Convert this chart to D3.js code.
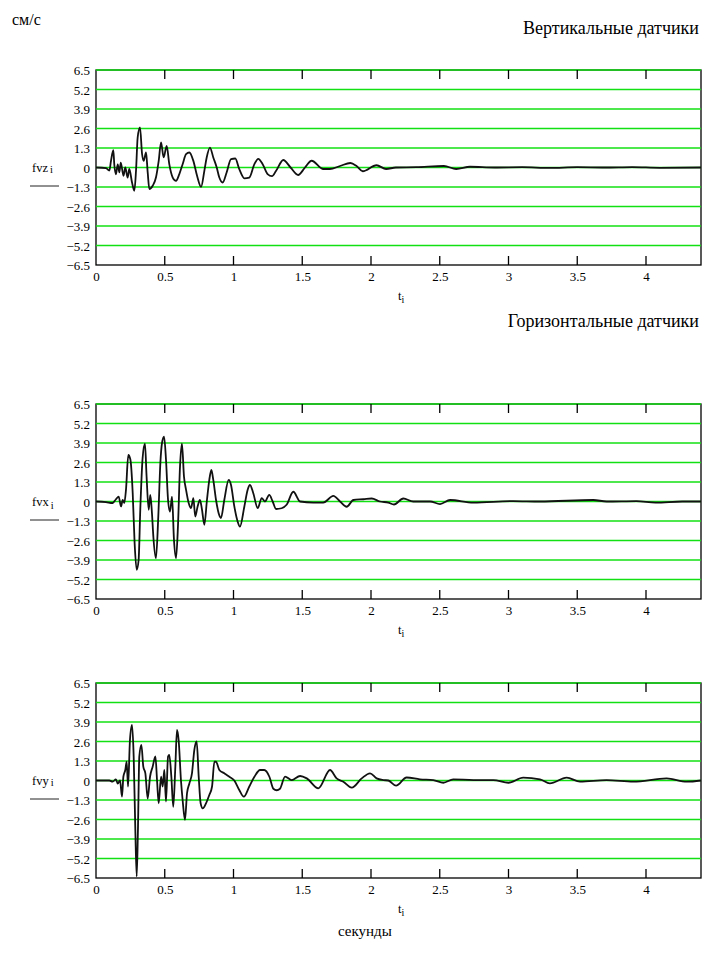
<!DOCTYPE html>
<html>
<head>
<meta charset="utf-8">
<script src="https://cdn.jsdelivr.net/npm/d3@7"></script>
<style>
  body { margin: 0; background: #fff; }
  svg { display: block; font-family: "Liberation Serif", "Times New Roman", serif; }
  svg text, .tick text { font-family: "Liberation Serif", "Times New Roman", serif; }
  .tick text { font-size: 13px; fill: #000; }
</style>
</head>
<body>
<div class="wrapper"></div>
<script>
// chart size
var ultimatew = 702,
  ultimateh = 956;

// axis settings
var xTicks = [0, 0.5, 1, 1.5, 2, 2.5, 3, 3.5, 4];
var yTicks = [6.5, 5.2, 3.9, 2.6, 1.3, 0, -1.3, -2.6, -3.9, -5.2, -6.5];
var xMax = 4.4;

// vertical sensor, fvz  [t, value]
var fvz = [
  [0, 0], [0.073, -0.04], [0.097, -0.2], [0.109, 0.44], [0.126, 1.15], [0.133, 0.2],
  [0.145, -0.45], [0.158, 0.2], [0.17, -0.33], [0.18, 0.33], [0.2, -0.55], [0.213, 0],
  [0.23, -0.67], [0.242, -0.1], [0.262, -1.0], [0.279, -1.55], [0.291, -0.22], [0.303, 2.0],
  [0.32, 2.67], [0.335, 0.9], [0.347, 0.44], [0.364, 1.0], [0.376, -0.33], [0.388, -1.44],
  [0.412, -1.22], [0.436, -0.67], [0.456, 0.44], [0.473, 1.67], [0.492, 0.67], [0.514, 1.44],
  [0.533, 0.22], [0.558, -0.67], [0.582, -0.89], [0.606, -0.44], [0.63, 0.22], [0.655, 0.89],
  [0.679, 1.0], [0.708, 0.44], [0.735, -0.55], [0.764, -1.29], [0.788, -0.22], [0.805, 0.67],
  [0.829, 1.33], [0.853, 0.67], [0.878, 0], [0.897, -0.67], [0.921, -1.0], [0.95, -0.33],
  [0.982, 0.56], [1.013, 0.6], [1.042, -0.11], [1.079, -0.72], [1.115, -0.67], [1.152, 0.22],
  [1.18, 0.58], [1.212, 0.22], [1.248, -0.44], [1.28, -0.58], [1.31, -0.22], [1.362, 0.5],
  [1.415, 0], [1.47, -0.5], [1.52, 0], [1.568, 0.45], [1.653, -0.1], [1.7, -0.1],
  [1.775, 0.1], [1.85, 0.3], [1.895, 0.1], [1.94, -0.25], [2.04, 0.15], [2.11, -0.1],
  [2.18, 0], [2.33, 0.02], [2.53, 0.1], [2.62, -0.1], [2.72, 0.05], [2.9, 0],
  [3.1, 0.02], [3.3, -0.03], [3.5, 0.02], [3.7, 0], [3.9, 0.03], [4.1, -0.02], [4.4, 0]
];

// horizontal sensor, fvx  [t, value]
var fvx = [
  [0, 0], [0.073, -0.04], [0.121, -0.1], [0.145, 0.15], [0.165, 0.33], [0.182, -0.33],
  [0.194, 0.1], [0.206, -0.1], [0.218, 0.78], [0.235, 3.1], [0.25, 2.8], [0.267, 0.55],
  [0.281, -2.8], [0.296, -4.55], [0.31, -3.9], [0.322, -0.55], [0.339, 2.9], [0.356, 3.85],
  [0.368, 1.65], [0.383, -0.55], [0.395, 0.44], [0.407, -0.78], [0.417, -2.33], [0.436, -3.78],
  [0.453, -1.0], [0.468, 2.55], [0.48, 3.9], [0.495, 4.33], [0.509, 2.8], [0.524, 0.1],
  [0.538, -0.67], [0.553, 0.33], [0.567, -2.55], [0.582, -3.78], [0.596, -1.67], [0.611, 2.33],
  [0.625, 3.85], [0.64, 1.65], [0.655, 0.78], [0.674, -0.1], [0.691, -0.44], [0.708, 0.22],
  [0.722, -1.0], [0.739, -0.33], [0.756, 0.1], [0.771, -0.55], [0.788, -1.55], [0.807, 0.1],
  [0.824, 1.44], [0.839, 2.1], [0.853, 1.44], [0.873, 0.1], [0.892, -0.78], [0.909, -1.1],
  [0.933, 0.1], [0.965, 1.44], [0.982, 1.1], [1.006, -0.33], [1.03, -1.33], [1.047, -1.67],
  [1.079, -0.33], [1.103, 0.78], [1.12, 1.1], [1.144, 0.55], [1.176, -0.44], [1.205, 0.22],
  [1.229, 0], [1.26, 0.44], [1.285, 0], [1.31, -0.5], [1.35, -0.45], [1.386, -0.22],
  [1.435, 0.65], [1.484, 0], [1.58, -0.07], [1.653, -0.07], [1.726, 0.37], [1.775, 0],
  [1.823, -0.35], [1.872, 0.1], [1.945, 0.15], [2.005, 0.2], [2.065, 0], [2.126, -0.07],
  [2.167, -0.2], [2.235, 0.2], [2.307, 0], [2.43, 0], [2.502, -0.17], [2.575, 0.1],
  [2.744, -0.07], [3.035, 0.03], [3.229, 0], [3.617, 0.1], [3.713, 0], [3.93, 0.03],
  [4.07, -0.07], [4.265, 0], [4.4, 0]
];

// horizontal sensor, fvy  [t, value]
var fvy = [
  [0, 0], [0.097, 0], [0.121, -0.08], [0.145, 0.08], [0.158, -0.2], [0.175, 0],
  [0.189, -1.08], [0.199, 0.25], [0.213, 0.7], [0.223, 1.25], [0.233, -0.4], [0.247, 2.7],
  [0.262, 3.7], [0.274, 1.6], [0.286, -3.3], [0.296, -6.4], [0.305, -3.3], [0.315, 1.6],
  [0.33, 2.37], [0.344, 0.92], [0.359, 0.48], [0.376, -1.2], [0.393, 0.25], [0.412, 0.92],
  [0.432, 1.6], [0.444, 0], [0.456, -1.52], [0.473, 0.25], [0.485, -0.4], [0.497, 0.7],
  [0.509, -1.4], [0.524, 1.6], [0.533, 1.7], [0.548, 0.25], [0.562, -1.75], [0.577, 0.92],
  [0.589, 3.37], [0.601, 2.7], [0.618, 0], [0.63, -1.3], [0.647, -2.63], [0.662, -0.85],
  [0.679, -0.2], [0.698, 0.48], [0.715, 2.03], [0.732, 2.6], [0.747, 0.25], [0.761, -1.52],
  [0.776, -1.86], [0.8, -1.52], [0.824, -0.97], [0.844, -0.4], [0.861, 1.25], [0.873, 1.25],
  [0.897, 0.7], [0.933, 0.48], [0.97, 0.25], [1.006, 0], [1.042, -0.63], [1.075, -1.08],
  [1.115, -0.4], [1.152, 0.25], [1.193, 0.7], [1.224, 0.7], [1.261, 0.25], [1.29, -0.55],
  [1.314, -0.65], [1.338, -0.55], [1.375, 0.26], [1.423, 0.03], [1.484, 0.3], [1.533, 0.14], [1.617, -0.52],
  [1.702, 0.7], [1.75, 0.14], [1.799, -0.08], [1.86, -0.48], [1.932, 0.14], [1.993, 0.48],
  [2.041, 0.14], [2.09, 0.03], [2.126, 0], [2.182, -0.34], [2.259, 0.2], [2.356, 0.08],
  [2.453, 0.03], [2.526, -0.15], [2.598, 0.08], [2.744, 0.03], [2.89, 0.03], [2.999, -0.15],
  [3.107, 0.19], [3.229, 0.08], [3.301, -0.19], [3.423, 0.19], [3.52, -0.08], [3.713, 0.03],
  [3.908, -0.08], [4.15, 0.14], [4.296, -0.08], [4.4, 0]
];

var panels = [
  { data: fvz, name: "fvz", top: 70 },
  { data: fvx, name: "fvx", top: 404 },
  { data: fvy, name: "fvy", top: 683 }
];

var margin = { left: 96, right: 1 },
  width = ultimatew - margin.left - margin.right,
  height = 195;

var svg = d3
  .select(".wrapper")
  .append("svg")
  .attr("width", ultimatew)
  .attr("height", ultimateh);

var x = d3.scaleLinear().domain([0, xMax]).range([0, width]);
var y = d3.scaleLinear().domain([-6.5, 6.5]).range([height, 0]);

function fmtY(v) {
  if (v === 0) return "0";
  return (v < 0 ? "\u2212" : "") + Math.abs(v).toFixed(1);
}

panels.forEach(function(p) {
  var g = svg
    .append("g")
    .attr("transform", "translate(" + margin.left + "," + p.top + ")");

  // frame
  g.append("rect")
    .attr("width", width)
    .attr("height", height)
    .attr("fill", "none")
    .attr("stroke", "#000")
    .attr("stroke-width", 1.3);

  // green grid
  g.selectAll(".grid")
    .data(yTicks.filter(function(d) { return d > -6.5; }))
    .enter()
    .append("line")
    .attr("x1", 0)
    .attr("x2", width)
    .attr("y1", function(d) { return y(d); })
    .attr("y2", function(d) { return y(d); })
    .attr("stroke", "#12e012")
    .attr("stroke-width", 1.4);

  // inner tick marks top and bottom
  var inner = xTicks.filter(function(d) { return d > 0; });
  g.selectAll(".tTop")
    .data(inner)
    .enter()
    .append("line")
    .attr("x1", function(d) { return x(d); })
    .attr("x2", function(d) { return x(d); })
    .attr("y1", 0)
    .attr("y2", 9)
    .attr("stroke", "#000")
    .attr("stroke-width", 1.3);
  g.selectAll(".tBot")
    .data(inner)
    .enter()
    .append("line")
    .attr("x1", function(d) { return x(d); })
    .attr("x2", function(d) { return x(d); })
    .attr("y1", height)
    .attr("y2", height - 9)
    .attr("stroke", "#000")
    .attr("stroke-width", 1.3);

  // the signal
  var line = d3
    .line()
    .x(function(d) { return x(d[0]); })
    .y(function(d) { return y(d[1]); })
    .curve(d3.curveMonotoneX);

  g.append("path")
    .datum(p.data)
    .attr("d", line)
    .attr("fill", "none")
    .attr("stroke", "#111")
    .attr("stroke-width", 1.8)
    .attr("stroke-linejoin", "round");

  // tick labels
  var ax = g
    .append("g")
    .attr("transform", "translate(0," + height + ")")
    .call(d3.axisBottom(x).tickValues(xTicks).tickSize(0).tickPadding(7).tickFormat(String));
  ax.select(".domain").remove();

  var ay = g
    .append("g")
    .call(d3.axisLeft(y).tickValues(yTicks).tickSize(0).tickPadding(6).tickFormat(fmtY));
  ay.select(".domain").remove();
  ay.selectAll("text").attr("dy", "0.36em");

  // y label
  var yl = g
    .append("text")
    .attr("x", -64)
    .attr("y", y(0) + 4)
    .attr("font-size", 12.5)
    .text(p.name);
  yl.append("tspan")
    .attr("dx", 2)
    .attr("dy", p.name === "fvx" ? 3 : 1)
    .attr("font-size", 10.5)
    .text("i");

  g.append("line")
    .attr("x1", -66)
    .attr("x2", -37)
    .attr("y1", y(0) + 18.5)
    .attr("y2", y(0) + 18.5)
    .attr("stroke", "#222")
    .attr("stroke-width", 1);

  // x label
  var xl = g
    .append("text")
    .attr("x", 302)
    .attr("y", height + 35)
    .attr("font-size", 12.5)
    .text("t");
  xl.append("tspan")
    .attr("dy", 3)
    .attr("font-size", 10)
    .text("i");
});

// titles
svg.append("text")
  .attr("x", 12)
  .attr("y", 25)
  .attr("font-size", 16)
  .text("см/с");

svg.append("text")
  .attr("x", 699)
  .attr("y", 34)
  .attr("text-anchor", "end")
  .attr("font-size", 18)
  .text("Вертикальные датчики");

svg.append("text")
  .attr("x", 699)
  .attr("y", 327)
  .attr("text-anchor", "end")
  .attr("font-size", 18)
  .text("Горизонтальные датчики");

svg.append("text")
  .attr("x", 338)
  .attr("y", 936)
  .attr("font-size", 15)
  .text("секунды");
</script>
</body>
</html>
